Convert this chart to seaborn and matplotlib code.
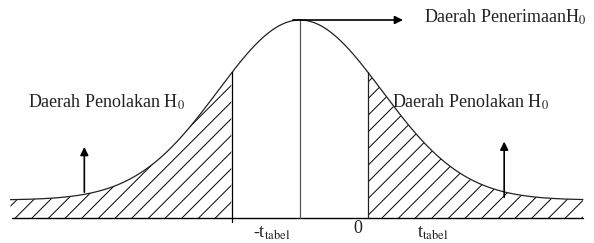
import matplotlib.pyplot as plt
import numpy as np
import pandas as pd
import seaborn as sns

# curve parameters (t units, curve height in units of peak amplitude)
x_range = [-3.53, 3.45]
t_crit = [-0.83, 0.83]
tail_offset = 0.1
peak_height = 1.0

arrow_left_x = -2.63
arrow_right_x = 2.49

labels_axis = ['-t$_{\\mathrm{tabel}}$', '0', 't$_{\\mathrm{tabel}}$']
labels_axis_x = [-0.34, 0.71, 1.62]
labels_axis_y = [-0.085, -0.058, -0.085]

sns.set_style('white')
plt.rcParams['font.family'] = ['Liberation Serif', 'DejaVu Serif']
plt.rcParams['mathtext.fontset'] = 'stix'

x = np.linspace(x_range[0], x_range[1], 600)
curve = pd.DataFrame({'x': x, 'y': tail_offset + peak_height * np.exp(-x ** 2 / 2)})

def f(v):
    return tail_offset + peak_height * np.exp(-v ** 2 / 2)

fig = plt.figure(figsize=(5.94, 2.43), dpi=100)
ax = fig.add_axes([0, 0, 1, 1])
ax.set_xlim(-300 / 82, 294 / 82)
ax.set_ylim(-25 / 180, 218 / 180)
ax.axis('off')

sns.lineplot(data=curve, x='x', y='y', color='#222222', linewidth=0.9, ax=ax)

# baseline
ax.plot([-3.51, 3.45], [0, 0], color='black', linewidth=1.0)

# hatched tails
left = curve[curve['x'] <= t_crit[0]]
right = curve[curve['x'] >= t_crit[1]]
plt.rcParams['hatch.linewidth'] = 0.7
for part in [left, right]:
    ax.fill_between(part['x'], 0, part['y'], facecolor='none', edgecolor='black',
                    hatch='//', linewidth=0)

# vertical lines
ax.plot([t_crit[0], t_crit[0]], [-0.02, f(t_crit[0])], color='black', linewidth=0.9)
ax.plot([0, 0], [0, f(0)], color='#555555', linewidth=0.9)
ax.plot([t_crit[1], t_crit[1]], [0, f(t_crit[1])], color='#222222', linewidth=0.9)

# arrows
arrow = dict(arrowstyle='-|>', color='black', linewidth=1.2, mutation_scale=12)
ax.annotate('', xy=(1.29, f(0)), xytext=(-0.12, f(0)), arrowprops=arrow)
ax.annotate('', xy=(arrow_left_x, 0.41), xytext=(arrow_left_x, 0.128), arrowprops=arrow)
ax.annotate('', xy=(arrow_right_x, 0.44), xytext=(arrow_right_x, 0.1), arrowprops=arrow)

# texts
ax.text(-3.32, 0.644, 'Daerah Penolakan H$_0$', fontsize=13, color='#222222', va='center')
ax.text(1.12, 0.644, 'Daerah Penolakan H$_0$', fontsize=13, color='#222222', va='center')
ax.text(1.51, 1.117, 'Daerah PenerimaanH$_0$', fontsize=13, color='#222222', va='center')
for lab, lx, ly in zip(labels_axis, labels_axis_x, labels_axis_y):
    ax.text(lx, ly, lab, fontsize=13, color='#222222', ha='center', va='center')

plt.savefig('out.png', dpi=100)
